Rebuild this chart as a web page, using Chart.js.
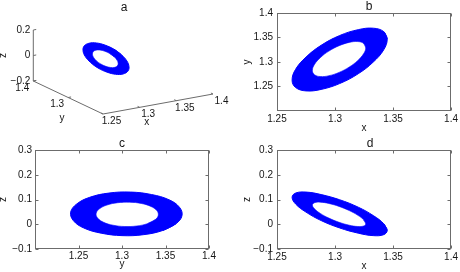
<!DOCTYPE html>
<html><head><meta charset="utf-8">
<script src="https://cdn.jsdelivr.net/npm/chart.js@4.4.1/dist/chart.umd.min.js"></script>
<style>
html,body{margin:0;padding:0;background:#fff;}
#wrap{position:relative;width:460px;height:272px;overflow:hidden;background:#fff;}
canvas{position:absolute;}
</style></head><body>
<div id="wrap">
<canvas id="ca" width="230" height="136" style="left:0;top:0"></canvas>
<canvas id="cb" width="230" height="136" style="left:230px;top:0"></canvas>
<canvas id="cc" width="230" height="136" style="left:0;top:136px"></canvas>
<canvas id="cd" width="230" height="136" style="left:230px;top:136px"></canvas>
</div>
<script>
// ---- data: outer and inner boundary of the torus band (x, y, z), read from the projections ----
const outerX = [1.345,1.342,1.333,1.320,1.304,1.288,1.275,1.266,1.263,1.266,1.275,1.288,1.304,1.320,1.333,1.342];
const outerY = [1.347,1.362,1.369,1.366,1.354,1.334,1.310,1.285,1.263,1.248,1.241,1.244,1.256,1.276,1.300,1.325];
const outerZ = [-0.025,0.002,0.035,0.069,0.099,0.120,0.130,0.126,0.109,0.082,0.049,0.015,-0.015,-0.036,-0.046,-0.042];
const innerX = [1.3265,1.3247,1.3197,1.3123,1.3035,1.2947,1.2873,1.2823,1.2805,1.2823,1.2873,1.2947,1.3035,1.3123,1.3197,1.3247];
const innerY = [1.3293,1.3379,1.3417,1.3400,1.3332,1.3222,1.3088,1.2949,1.2827,1.2741,1.2703,1.2720,1.2788,1.2898,1.3032,1.3171];
const innerZ = [0.0025,0.0177,0.0361,0.0552,0.0720,0.0839,0.0891,0.0869,0.0775,0.0623,0.0439,0.0248,0.0080,-0.0039,-0.0091,-0.0069];

// ---- axis limits and tick labels ----
const xLim = [1.25, 1.4];
const yLimB = [1.2, 1.4];
const yLimC = [1.2, 1.4];
const zLim = [-0.1, 0.3];
const xTicks = [1.25, 1.3, 1.35, 1.4];
const yTicks = [1.25, 1.3, 1.35, 1.4];
const zTicks = [-0.1, 0, 0.1, 0.2, 0.3];
const xLim3 = [1.25, 1.4], yLim3 = [1.2, 1.4], zLim3 = [-0.2, 0.2];
const xTicks3 = [1.25, 1.3, 1.35, 1.4];
const yTicks3 = [1.3, 1.4];
const zTicks3 = [-0.2, 0, 0.2];
const panelTitles = ['a', 'b', 'c', 'd'];

const FONT = "'Liberation Sans', Arial, Helvetica, sans-serif";
const TXT = '#151515', AX = '#6c6c6c', BLUE = '#0000ff';
Chart.defaults.font.family = FONT;
Chart.defaults.font.size = 10;
Chart.defaults.color = TXT;
Chart.defaults.animation = false;

const fmt = v => String(Math.round(v * 1000) / 1000).replace('-', '\u2212');

function loop(a, b) {
  const n = a.length, pts = [];
  for (let i = 0; i < n + 2; i++) pts.push({x: a[i % n], y: b[i % n]});
  return pts;
}
function ringSets(outer, inner) {
  return [
    {data: inner, showLine: true, fill: 'shape', backgroundColor: '#ffffff', borderColor: BLUE, borderWidth: 0.6, tension: 0.4, pointRadius: 0, order: 1},
    {data: outer, showLine: true, fill: 'shape', backgroundColor: BLUE, borderColor: BLUE, borderWidth: 1, tension: 0.4, pointRadius: 0, order: 2}
  ];
}

// box and inward ticks, like a 2-D axes frame
const boxPlugin = {
  id: 'box',
  afterDraw(chart, args, o) {
    if (!o.on) return;
    const {ctx, chartArea: a, scales} = chart;
    ctx.save();
    ctx.strokeStyle = AX; ctx.lineWidth = 1;
    const L = Math.round(a.left) + 0.5, R = Math.round(a.right) - 0.5, T = Math.round(a.top) + 0.5, B = Math.round(a.bottom) - 0.5;
    ctx.strokeRect(L, T, R - L, B - T);
    ctx.beginPath();
    scales.x.ticks.forEach(t => {
      const p = Math.round(scales.x.getPixelForValue(t.value)) + 0.5;
      ctx.moveTo(p, B); ctx.lineTo(p, B - 3);
      ctx.moveTo(p, T); ctx.lineTo(p, T + 3);
    });
    scales.y.ticks.forEach(t => {
      const p = Math.round(scales.y.getPixelForValue(t.value)) + 0.5;
      ctx.moveTo(L, p); ctx.lineTo(L + 3, p);
      ctx.moveTo(R, p); ctx.lineTo(R - 3, p);
    });
    ctx.stroke();
    ctx.restore();
  }
};
const titlePlugin = {
  id: 'ptitle',
  afterDraw(chart, args, o) {
    if (!o.text) return;
    const {ctx, chartArea: a} = chart;
    ctx.save();
    ctx.font = '12px ' + FONT; ctx.fillStyle = TXT;
    ctx.textAlign = 'center'; ctx.textBaseline = 'alphabetic';
    const x = o.x !== undefined ? o.x : (a.left + a.right) / 2 + (o.dx || 0);
    const y = o.y !== undefined ? o.y : a.top - 3;
    ctx.fillText(o.text, x, y);
    ctx.restore();
  }
};

function panel(id, xs, ys, c) {
  return new Chart(document.getElementById(id), {
    type: 'scatter',
    data: {datasets: ringSets(loop(xs[0], ys[0]), loop(xs[1], ys[1]))},
    options: {
      responsive: false, devicePixelRatio: 1,
      layout: {padding: {left: 0, top: c.top, right: c.right, bottom: 0}},
      plugins: {legend: {display: false}, tooltip: {enabled: false}, box: {on: true}, ptitle: {text: c.title, dx: c.tdx}},
      scales: {
        x: {
          type: 'linear', min: c.xlim[0], max: c.xlim[1],
          afterBuildTicks: s => { s.ticks = c.xt.map(v => ({value: v})); },
          afterFit: s => { s.height = c.xh; },
          grid: {display: false, drawTicks: false}, border: {display: false},
          ticks: {padding: c.xpad, maxRotation: 0, autoSkip: false, callback: v => fmt(v)},
          title: {display: true, text: c.xlabel, padding: {top: 0, bottom: c.xtp}}
        },
        y: {
          type: 'linear', min: c.ylim[0], max: c.ylim[1],
          afterBuildTicks: s => { s.ticks = c.yt.map(v => ({value: v})); },
          afterFit: s => { s.width = c.yw; },
          grid: {display: false, drawTicks: false}, border: {display: false},
          ticks: {padding: c.ypad, autoSkip: false, callback: v => fmt(v)},
          title: {display: true, text: c.ylabel, padding: {top: c.ytp, bottom: 0}}
        }
      }
    },
    plugins: [boxPlugin, titlePlugin]
  });
}

// b: x-y
panel('cb', [outerX, innerX], [outerY, innerY], {title: panelTitles[1], tdx: 5, top: 13, right: 7, xh: 25, yw: 47,
  xlim: xLim, ylim: yLimB, xt: xTicks, yt: yTicks, xlabel: 'x', ylabel: 'y', xpad: 2, ypad: 4, xtp: 2, ytp: 11.5});
// c: y-z
panel('cc', [outerY, innerY], [outerZ, innerZ], {title: panelTitles[2], tdx: 0, top: 14, right: 21, xh: 23, yw: 35,
  xlim: yLimC, ylim: zLim, xt: yTicks, yt: zTicks, xlabel: 'y', ylabel: 'z', xpad: 1, ypad: 3, xtp: 2, ytp: -2.8});
// d: x-z
panel('cd', [outerX, innerX], [outerZ, innerZ], {title: panelTitles[3], tdx: 6, top: 14, right: 7, xh: 23, yw: 47,
  xlim: xLim, ylim: zLim, xt: xTicks, yt: zTicks, xlabel: 'x', ylabel: 'z', xpad: 2, ypad: 4, xtp: 0, ytp: 11.5});

// a: 3-D view, projected through fixed axis directions (screen units per full axis range)
const view = {ex: [110, 20], ey: [-69.7, 33], ez: [0, 51]};
function proj(x, y, z) {
  const fx = (x - xLim3[0]) / (xLim3[1] - xLim3[0]);
  const fy = (y - yLim3[0]) / (yLim3[1] - yLim3[0]);
  const fz = (z - zLim3[0]) / (zLim3[1] - zLim3[0]);
  return {x: fx * view.ex[0] + fy * view.ey[0] + fz * view.ez[0],
          y: fx * view.ex[1] + fy * view.ey[1] + fz * view.ez[1]};
}
function loop3(a, b, c) {
  const n = a.length, pts = [];
  for (let i = 0; i < n + 2; i++) pts.push(proj(a[i % n], b[i % n], c[i % n]));
  return pts;
}
const axisLine = pts => ({data: pts, showLine: true, fill: false, borderColor: AX, borderWidth: 1, tension: 0, pointRadius: 0, order: 3});
const X0 = xLim3[0], X1 = xLim3[1], Y0 = yLim3[0], Y1 = yLim3[1], Z0 = zLim3[0], Z1 = zLim3[1];
const plot3Plugin = {
  id: 'plot3',
  afterDraw(chart) {
    const {ctx, scales: {x: sx, y: sy}} = chart;
    const P = (x, y, z) => { const p = proj(x, y, z); return [sx.getPixelForValue(p.x), sy.getPixelForValue(p.y)]; };
    ctx.save();
    ctx.strokeStyle = AX; ctx.lineWidth = 1;
    ctx.beginPath();
    zTicks3.forEach(v => { const a = P(X0, Y1, v), b = P(X0 + 0.004, Y1, v); ctx.moveTo(a[0], a[1]); ctx.lineTo(b[0], b[1]); });
    yTicks3.forEach(v => { const a = P(X0, v, Z0), b = P(X0 + 0.004, v, Z0); ctx.moveTo(a[0], a[1]); ctx.lineTo(b[0], b[1]); });
    xTicks3.forEach(v => { const a = P(v, Y0, Z0), b = P(v, Y0 + 0.006, Z0); ctx.moveTo(a[0], a[1]); ctx.lineTo(b[0], b[1]); });
    ctx.stroke();
    ctx.fillStyle = TXT; ctx.font = '10px ' + FONT;
    ctx.textAlign = 'right'; ctx.textBaseline = 'middle';
    zTicks3.forEach(v => { const a = P(X0, Y1, v); ctx.fillText(fmt(v), a[0] - 3, a[1]); });
    ctx.textAlign = 'center';
    yTicks3.forEach(v => { const a = P(X0, v, Z0); ctx.fillText(fmt(v), a[0] - 11, a[1] + 7); });
    xTicks3.forEach(v => { const a = P(v, Y0, Z0); ctx.fillText(fmt(v), a[0] + 8.5, a[1] + 7.4); });
    // axis labels
    let a = P(X0, (Y0 + Y1) / 2, Z0); ctx.fillText('y', a[0] - 6.2, a[1] + 20.5);
    a = P((X0 + X1) / 2, Y0, Z0); ctx.fillText('x', a[0] - 11.3, a[1] + 18.2);
    a = P(X0, Y1, (Z0 + Z1) / 2);
    ctx.save(); ctx.translate(a[0] - 30, a[1]); ctx.rotate(-Math.PI / 2); ctx.fillText('z', 0, 0); ctx.restore();
    ctx.restore();
  }
};
new Chart(document.getElementById('ca'), {
  type: 'scatter',
  data: {datasets: [
    ...ringSets(loop3(outerX, outerY, outerZ), loop3(innerX, innerY, innerZ)),
    axisLine([proj(X0, Y1, Z0), proj(X0, Y1, Z1)]),
    axisLine([proj(X0, Y1, Z0), proj(X0, Y0, Z0)]),
    axisLine([proj(X0, Y0, Z0), proj(X1, Y0, Z0)])
  ]},
  options: {
    responsive: false, devicePixelRatio: 1,
    layout: {padding: 0},
    plugins: {legend: {display: false}, tooltip: {enabled: false}, ptitle: {text: panelTitles[0], x: 124, y: 10.5}},
    scales: {
      x: {type: 'linear', display: false, min: -103, max: 127},
      y: {type: 'linear', display: false, min: -22, max: 114}
    }
  },
  plugins: [plot3Plugin, titlePlugin]
});
</script>
</body></html>
